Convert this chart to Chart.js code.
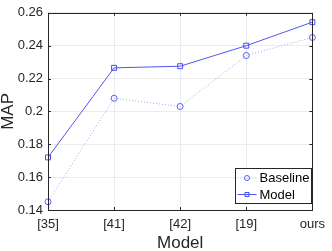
<!DOCTYPE html>
<html>
<head>
<meta charset="utf-8">
<script src="https://cdn.jsdelivr.net/npm/chart.js@4"></script>
<style>
html,body{margin:0;padding:0;background:#fff;}
#wrap{width:332px;height:251px;}
</style>
</head>
<body>
<div id="wrap"><canvas id="c" width="332" height="251"></canvas></div>
<script>
const categories = ['[35]', '[41]', '[42]', '[19]', 'ours'];
const baselineValues = [0.145, 0.208, 0.203, 0.234, 0.245];
const modelValues = [0.172, 0.2265, 0.2275, 0.240, 0.2543];
const yTicks = [0.14, 0.16, 0.18, 0.2, 0.22, 0.24, 0.26];
const yTickLabels = ['0.14', '0.16', '0.18', '0.2', '0.22', '0.24', '0.26'];
const seriesNames = ['Baseline', 'Model'];

const FONT = '"Liberation Sans", Arial, Helvetica, sans-serif';
const AXIS_COLOR = '#262626';

const boxPlugin = {
  id: 'box',
  afterDatasetsDraw(chart) {
    const ctx = chart.ctx;
    const a = chart.chartArea;
    const x = chart.scales.x, y = chart.scales.y;
    ctx.save();
    ctx.strokeStyle = AXIS_COLOR;
    ctx.lineWidth = 1;
    ctx.beginPath();
    const tl = 3;
    x.ticks.forEach((t, i) => {
      const px = Math.round(x.getPixelForTick(i)) + 0.5;
      ctx.moveTo(px, a.bottom); ctx.lineTo(px, a.bottom - tl);
      ctx.moveTo(px, a.top); ctx.lineTo(px, a.top + tl);
    });
    y.ticks.forEach((t, i) => {
      const py = Math.round(y.getPixelForValue(t.value)) + 0.5;
      ctx.moveTo(a.left, py); ctx.lineTo(a.left + tl, py);
      ctx.moveTo(a.right, py); ctx.lineTo(a.right - tl, py);
    });
    ctx.stroke();
    ctx.strokeRect(Math.round(a.left) + 0.5, Math.round(a.top) + 0.5, Math.round(a.right - a.left), Math.round(a.bottom - a.top));
    ctx.restore();
  },
  afterDraw(chart) {
    const ctx = chart.ctx;
    const bx = 235.5, by = 168.5, bw = 76, bh = 35;
    ctx.save();
    ctx.fillStyle = '#fff';
    ctx.fillRect(bx, by, bw, bh);
    ctx.strokeStyle = AXIS_COLOR;
    ctx.lineWidth = 1;
    ctx.strokeRect(bx, by, bw, bh);
    ctx.font = '13px ' + FONT;
    ctx.textBaseline = 'middle';
    chart.data.datasets.forEach((ds, i) => {
      const cy = by + 9.5 + i * 16.5;
      ctx.strokeStyle = ds.borderColor;
      ctx.setLineDash(ds.borderDash || []);
      ctx.beginPath();
      ctx.moveTo(bx + 2, cy); ctx.lineTo(bx + 21, cy);
      ctx.stroke();
      ctx.setLineDash([]);
      ctx.strokeStyle = ds.pointBorderColor;
      ctx.beginPath();
      if (ds.pointStyle === 'circle') {
        ctx.arc(bx + 11.5, cy, 2.5, 0, Math.PI * 2);
      } else {
        ctx.rect(bx + 9.5, cy - 2, 4, 4);
      }
      ctx.stroke();
      ctx.fillStyle = '#000';
      ctx.fillText(ds.label, bx + 24, cy + 0.5);
    });
    ctx.restore();
  }
};

new Chart(document.getElementById('c'), {
  type: 'line',
  data: {
    labels: categories,
    datasets: [
      {
        label: seriesNames[0],
        data: baselineValues,
        borderColor: '#a4a4ff',
        borderWidth: 1,
        borderDash: [1, 2],
        pointStyle: 'circle',
        pointRadius: 3,
        pointBorderColor: '#5a5aff',
        pointBackgroundColor: 'rgba(0,0,0,0)',
        pointBorderWidth: 1,
        tension: 0,
        fill: false
      },
      {
        label: seriesNames[1],
        data: modelValues,
        borderColor: '#5555f5',
        borderWidth: 1,
        pointStyle: 'rect',
        pointRadius: 3.5,
        pointBorderColor: '#4848ff',
        pointBackgroundColor: 'rgba(0,0,0,0)',
        pointBorderWidth: 1,
        tension: 0,
        fill: false
      }
    ]
  },
  options: {
    responsive: false,
    animation: false,
    devicePixelRatio: 1,
    layout: { padding: { left: 0, right: 12, top: 5, bottom: 0 } },
    plugins: { legend: { display: false }, tooltip: { enabled: false } },
    scales: {
      x: {
        type: 'category',
        offset: false,
        grid: { color: '#ebebeb', drawTicks: false, lineWidth: 1 },
        border: { display: false },
        ticks: {
          color: '#262626',
          font: { family: FONT, size: 13 },
          padding: 7,
          maxRotation: 0,
          autoSkip: false
        },
        title: {
          display: true,
          text: 'Model',
          color: '#262626',
          font: { family: FONT, size: 17, lineHeight: 1 },
          padding: { top: 0, bottom: -1 }
        },
        afterFit(s) { s.height = 41; }
      },
      y: {
        min: 0.14,
        max: 0.26,
        afterBuildTicks(s) { s.ticks = yTicks.map(v => ({ value: v })); },
        grid: { color: '#ebebeb', drawTicks: false, lineWidth: 1 },
        border: { display: false },
        ticks: {
          color: '#262626',
          font: { family: FONT, size: 13 },
          padding: 5,
          callback(v) { const i = yTicks.indexOf(v); return i >= 0 ? yTickLabels[i] : ''; }
        },
        title: {
          display: true,
          text: 'MAP',
          color: '#262626',
          font: { family: FONT, size: 17, lineHeight: 1 },
          padding: 0
        },
        afterFit(s) { s.width = 48; }
      }
    }
  },
  plugins: [boxPlugin]
});
</script>
</body>
</html>
